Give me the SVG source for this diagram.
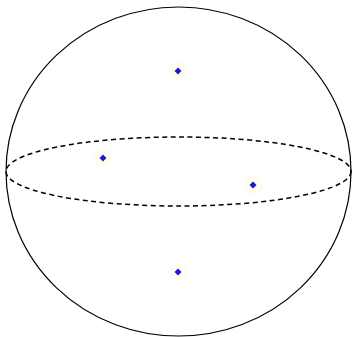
<svg xmlns="http://www.w3.org/2000/svg" width="352" height="337" viewBox="0 0 352 337">
<style>
.outline{fill:none;stroke:#000;stroke-width:1.2}
.eq{fill:none;stroke:#000;stroke-width:1.5;stroke-dasharray:5,3.5}
.glow{fill:#fffbe6;opacity:0.5}
.pt{fill:#1a1acc}
</style>
<rect width="352" height="337" fill="#fff"/>
<g id="connectors">
<ellipse id="sphere" class="outline" cx="178.5" cy="171.5" rx="172.5" ry="164.5"/>
<ellipse id="equator" class="eq" cx="178.5" cy="171.5" rx="172.5" ry="34.5"/>
</g>
<g id="p1"><circle class="glow" cx="178" cy="71" r="10"/><path class="pt" d="M178,67.5 L181.5,71 L178,74.5 L174.5,71 Z"/></g>
<g id="p2"><circle class="glow" cx="103" cy="158" r="10"/><path class="pt" d="M103,154.5 L106.5,158 L103,161.5 L99.5,158 Z"/></g>
<g id="p3"><circle class="glow" cx="253" cy="185" r="10"/><path class="pt" d="M253,181.5 L256.5,185 L253,188.5 L249.5,185 Z"/></g>
<g id="p4"><circle class="glow" cx="178" cy="272" r="10"/><path class="pt" d="M178,268.5 L181.5,272 L178,275.5 L174.5,272 Z"/></g>
</svg>
